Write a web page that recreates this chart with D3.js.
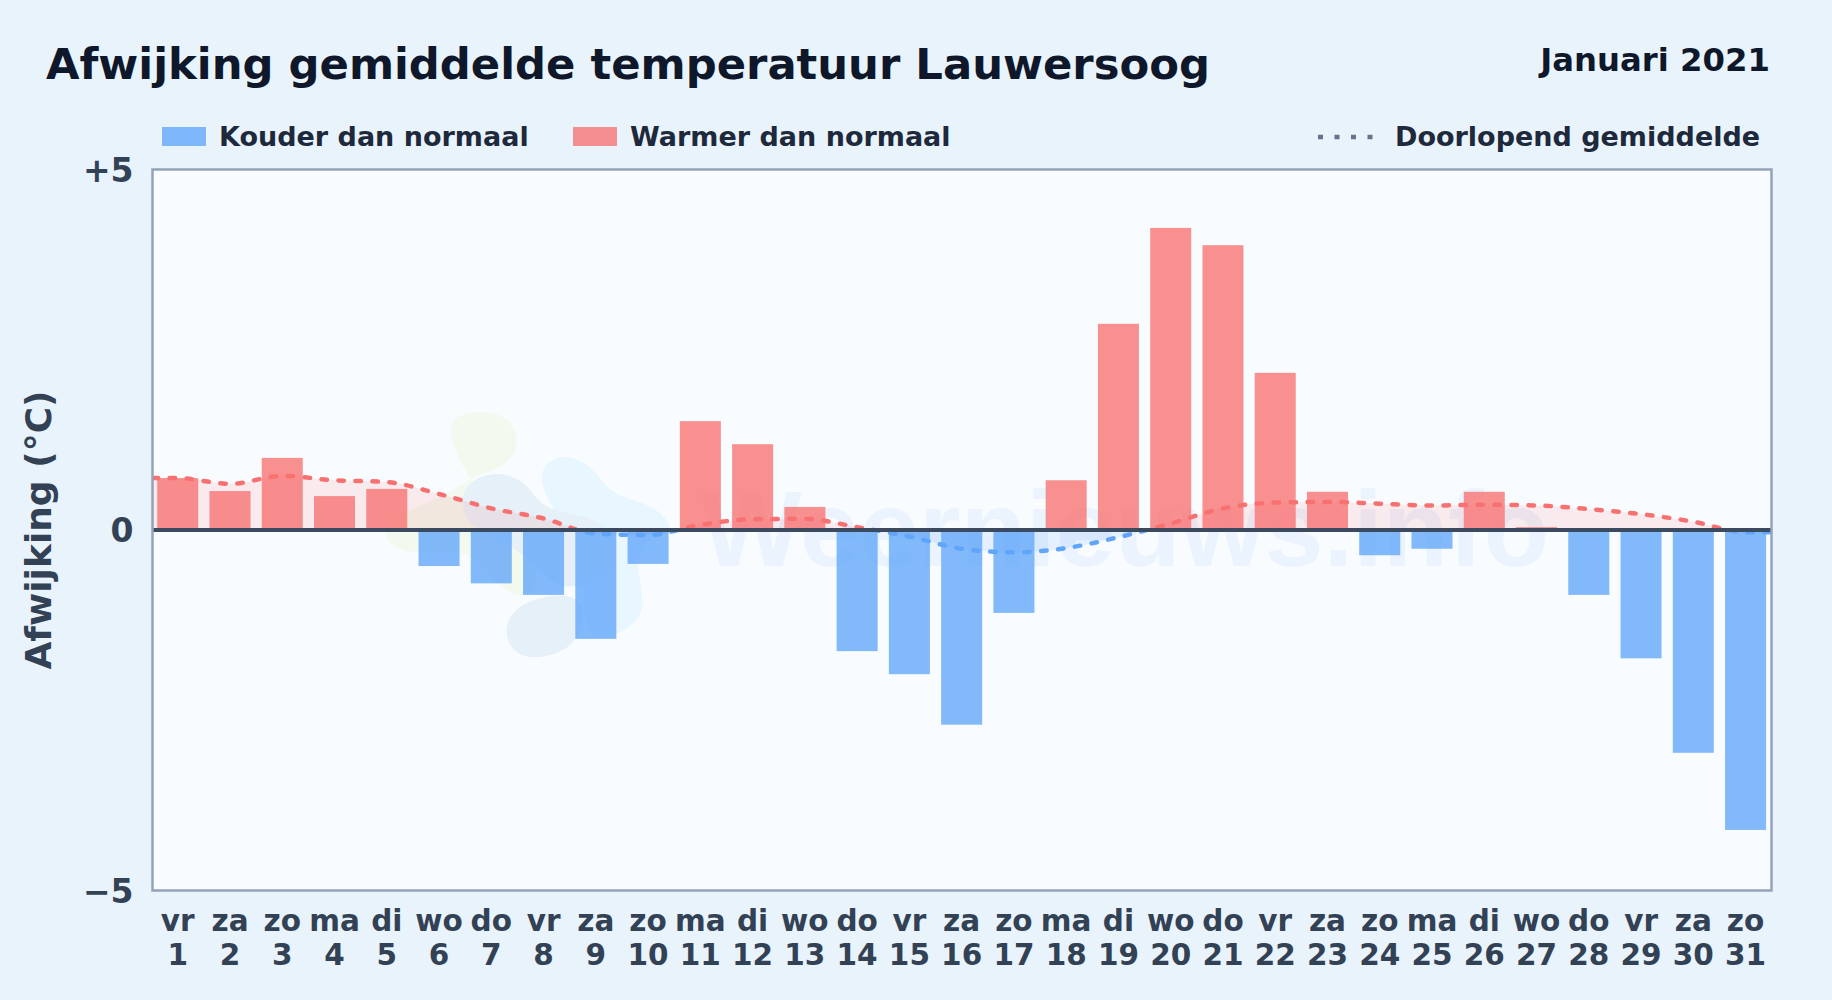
<!DOCTYPE html>
<html>
<head>
<meta charset="utf-8">
<title>Afwijking gemiddelde temperatuur Lauwersoog</title>
<script src="https://cdn.jsdelivr.net/npm/d3@7"></script>
<style>
  html, body { margin: 0; padding: 0; background: #e8f3fc; }
  svg { display: block; }
  text { font-family: "DejaVu Sans", sans-serif; font-weight: bold; }
</style>
</head>
<body>
<div class="canvas"></div>
<script>
// data
const weekdays = ['vr','za','zo','ma','di','wo','do','vr','za','zo','ma','di','wo','do','vr','za','zo','ma','di','wo','do','vr','za','zo','ma','di','wo','do','vr','za','zo'];
const days = d3.range(1, 32);
const deviation = [0.72,0.54,1.0,0.47,0.57,-0.5,-0.74,-0.9,-1.51,-0.47,1.51,1.19,0.32,-1.68,-2.0,-2.7,-1.15,0.69,2.86,4.19,3.95,2.18,0.53,-0.35,-0.26,0.53,0.04,-0.9,-1.78,-3.09,-4.16];
// running mean, one value per day plus both ends of the plot
const meanDays = [0.52,1,2,3,4,5,6,7,8,9,10,11,12,13,14,15,16,17,18,19,20,21,22,23,24,25,26,27,28,29,30,31,31.45];
const meanValues = [0.72,0.72,0.64,0.75,0.69,0.665,0.50,0.30,0.16,-0.05,-0.07,0.07,0.15,0.155,0.04,-0.09,-0.26,-0.31,-0.25,-0.10,0.09,0.30,0.38,0.39,0.365,0.34,0.35,0.34,0.29,0.22,0.115,-0.03,-0.03];
const yTicks = [-5, 0, 5];
const yTickLabels = ['\u22125', '0', '+5'];

const width = 1832, height = 1000;
const plot = { left: 152.5, right: 1771.5, top: 169.5, bottom: 890.5 };
const COLD = '#60a5fa', WARM = '#f87171';

const svg = d3.select('.canvas').append('svg')
    .attr('width', width)
    .attr('height', height);

svg.append('rect').attr('width', width).attr('height', height).attr('fill', '#e8f3fc');

// scales
const x = d3.scaleBand()
    .domain(days)
    .range([151.6, 1771.7])
    .paddingInner(0.215)
    .paddingOuter(0.1075);
const dayX = d3.scaleLinear()
    .domain([1, 31])
    .range([x(1) + x.bandwidth() / 2, x(31) + x.bandwidth() / 2]);
const y = d3.scaleLinear()
    .domain([-5, 5])
    .range([plot.bottom, plot.top]);

// plot background
svg.append('rect')
    .attr('x', plot.left).attr('y', plot.top)
    .attr('width', plot.right - plot.left).attr('height', plot.bottom - plot.top)
    .attr('fill', '#f8fcff');

// watermark logo
const blob = d3.line().curve(d3.curveBasisClosed);
const logoShapes = [
    { fill: '#f2f9ee', pts: [[444,432],[456,412],[506,410],[522,442],[506,468],[472,476],[450,494],[402,512],[378,535],[405,556],[450,548],[480,558],[500,592],[535,600],[540,560],[480,500]] },
    { fill: '#e8f6ff', pts: [[534,472],[560,452],[592,464],[610,496],[650,503],[670,522],[672,535],[640,540],[636,570],[648,612],[622,634],[590,642],[580,600],[590,540],[556,518]] },
    { fill: '#e6f0f8', pts: [[458,490],[488,470],[526,478],[540,510],[590,516],[612,530],[618,570],[590,582],[560,592],[530,560],[500,537],[466,527]] },
    { fill: '#e6f0f8', pts: [[502,626],[522,600],[570,592],[588,608],[576,648],[538,660],[512,654]] }
];
svg.append('g').selectAll('path')
    .data(logoShapes)
    .join('path')
    .attr('d', d => blob(d.pts))
    .attr('fill', d => d.fill);

svg.append('text')
    .attr('x', 701).attr('y', 566)
    .attr('font-size', 107)
    .style('font-family', '"Liberation Sans", sans-serif')
    .attr('fill', '#3b82f6')
    .attr('fill-opacity', 0.07)
    .text('Weernieuws.info');

// clip for the two colours of the running mean
const defs = svg.append('defs');
defs.append('clipPath').attr('id', 'above').append('rect')
    .attr('x', plot.left).attr('y', plot.top)
    .attr('width', plot.right - plot.left).attr('height', y(0) - plot.top);
defs.append('clipPath').attr('id', 'below').append('rect')
    .attr('x', plot.left).attr('y', y(0))
    .attr('width', plot.right - plot.left).attr('height', plot.bottom - y(0));

const mean = meanDays.map((d, i) => ({ day: d, value: meanValues[i] }));
const area = d3.area()
    .x(d => dayX(d.day))
    .y0(y(0))
    .y1(d => y(d.value))
    .curve(d3.curveMonotoneX);
const line = area.lineY1();

// bars
svg.append('g').selectAll('rect')
    .data(deviation)
    .join('rect')
    .attr('x', (d, i) => x(days[i]))
    .attr('y', d => y(Math.max(d, 0)))
    .attr('width', x.bandwidth())
    .attr('height', d => Math.abs(y(d) - y(0)))
    .attr('fill', d => d < 0 ? COLD : WARM)
    .attr('fill-opacity', 0.78);

// running mean, red above zero and blue below
[['above', WARM], ['below', COLD]].forEach(([clip, colour]) => {
    const g = svg.append('g').attr('clip-path', `url(#${clip})`);
    g.append('path')
        .attr('d', area(mean))
        .attr('fill', colour)
        .attr('fill-opacity', 0.13);
    g.append('path')
        .attr('d', line(mean))
        .attr('fill', 'none')
        .attr('stroke', colour)
        .attr('stroke-width', 4.5)
        .attr('stroke-linecap', 'round')
        .attr('stroke-dasharray', '5.5 11.5');
});

// zero line and frame
svg.append('line')
    .attr('x1', plot.left).attr('x2', plot.right)
    .attr('y1', y(0)).attr('y2', y(0))
    .attr('stroke', '#3b4a5f')
    .attr('stroke-width', 4);
svg.append('rect')
    .attr('x', plot.left).attr('y', plot.top)
    .attr('width', plot.right - plot.left).attr('height', plot.bottom - plot.top)
    .attr('fill', 'none')
    .attr('stroke', '#94a3b8')
    .attr('stroke-width', 2.5);

// axes
const yAxis = d3.axisLeft(y)
    .tickValues(yTicks)
    .tickFormat((d, i) => yTickLabels[i])
    .tickSize(0)
    .tickPadding(19);
const yAxisGroup = svg.append('g')
    .attr('transform', `translate(${plot.left}, 0)`)
    .call(yAxis);
yAxisGroup.select('.domain').remove();
yAxisGroup.selectAll('text')
    .attr('y', 1)
    .attr('font-size', 33)
    .attr('fill', '#334155')
    .attr('font-family', '"DejaVu Sans", sans-serif');

const xAxis = d3.axisBottom(x).tickSize(0).tickFormat('');
const xAxisGroup = svg.append('g')
    .attr('transform', `translate(0, ${plot.bottom})`)
    .call(xAxis);
xAxisGroup.select('.domain').remove();
const xLabels = xAxisGroup.selectAll('.tick text')
    .attr('y', 0).attr('dy', null)
    .attr('font-size', 29.5)
    .attr('fill', '#334155')
    .attr('font-family', '"DejaVu Sans", sans-serif');
xLabels.append('tspan').attr('x', 0).attr('y', 40.5).text((d, i) => weekdays[i]);
xLabels.append('tspan').attr('x', 0).attr('y', 74.5).text(d => d);

// axis title
svg.append('text')
    .attr('transform', 'translate(51, 530) rotate(-90)')
    .attr('text-anchor', 'middle')
    .attr('font-size', 36)
    .attr('fill', '#334155')
    .text('Afwijking (°C)');

// titles
svg.append('text')
    .attr('x', 46).attr('y', 79)
    .attr('font-size', 43.3)
    .attr('fill', '#0f172a')
    .text('Afwijking gemiddelde temperatuur Lauwersoog');
svg.append('text')
    .attr('x', 1770).attr('y', 71)
    .attr('text-anchor', 'end')
    .attr('font-size', 32.3)
    .attr('fill', '#0f172a')
    .text('Januari 2021');

// legend
const legendItems = [
    { label: 'Kouder dan normaal', colour: COLD, swatch: 162, text: 219 },
    { label: 'Warmer dan normaal', colour: WARM, swatch: 573, text: 630 }
];
const legend = svg.append('g');
legend.selectAll('rect')
    .data(legendItems)
    .join('rect')
    .attr('x', d => d.swatch).attr('y', 127)
    .attr('width', 44).attr('height', 19)
    .attr('fill', d => d.colour)
    .attr('fill-opacity', 0.78);
legend.selectAll('text')
    .data(legendItems)
    .join('text')
    .attr('x', d => d.text).attr('y', 146)
    .attr('font-size', 27)
    .attr('fill', '#1e293b')
    .text(d => d.label);
legend.append('line')
    .attr('x1', 1318).attr('x2', 1375)
    .attr('y1', 137).attr('y2', 137)
    .attr('stroke', '#64748b')
    .attr('stroke-width', 4.5)
    .attr('stroke-dasharray', '5 11.5');
legend.append('text')
    .attr('x', 1395).attr('y', 146)
    .attr('font-size', 27)
    .attr('fill', '#1e293b')
    .text('Doorlopend gemiddelde');
</script>
</body>
</html>
